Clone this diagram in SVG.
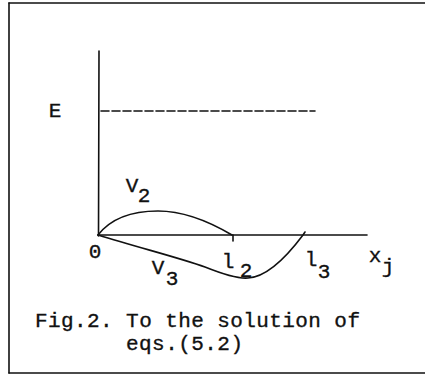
<svg xmlns="http://www.w3.org/2000/svg" width="425" height="376" viewBox="0 0 425 376">
<style>
.t{font-family:"Liberation Mono","DejaVu Sans Mono",monospace;font-size:21px;fill:#111;stroke:#111;stroke-width:0.35}
.ln{stroke:#111;fill:none;stroke-width:1.6;stroke-linecap:round}
</style>
<rect width="425" height="376" fill="#fff"/>
<g id="frame" class="ln">
<path d="M9,3 L9,373"/>
<path d="M9,3 L425,3"/>
<path d="M9,373 L425,373"/>
</g>
<g id="axes" class="ln">
<path d="M99,51 L98.5,236"/>
<path d="M98,235 L367,235"/>
<path d="M233,235 L233,241"/>
<path d="M101,111 L315,111" stroke-dasharray="8,3"/>
</g>
<g id="curves" class="ln">
<path id="V2curve" d="M98,235 C112,217 135,211 158,211 C185,211 210,222 232,235"/>
<path id="V3curve" d="M98,235 C140,248 180,258 205,267 C225,275 238,279 248,278 C268,277 288,255 303,235 L305,232"/>
</g>
<g id="labels">
<text class="t" x="55" y="117" text-anchor="middle">E</text>
<text class="t" x="95" y="258" text-anchor="middle">0</text>
<text class="t" x="132" y="192" text-anchor="middle">V</text>
<text class="t" x="144" y="202" text-anchor="middle">2</text>
<text class="t" x="158" y="274" text-anchor="middle">V</text>
<text class="t" x="172" y="285" text-anchor="middle">3</text>
<text class="t" x="228" y="268" text-anchor="middle">l</text>
<text class="t" x="246" y="277" text-anchor="middle">2</text>
<text class="t" x="311" y="266" text-anchor="middle">l</text>
<text class="t" x="324" y="278" text-anchor="middle">3</text>
<text class="t" x="375" y="262" text-anchor="middle">x</text>
<text class="t" x="388" y="273" text-anchor="middle">j</text>
</g>
<g id="caption">
<text class="t" x="35" y="327" textLength="325" lengthAdjust="spacing">Fig.2. To the solution of</text>
<text class="t" x="126" y="350" textLength="117" lengthAdjust="spacing">eqs.(5.2)</text>
</g>
</svg>
